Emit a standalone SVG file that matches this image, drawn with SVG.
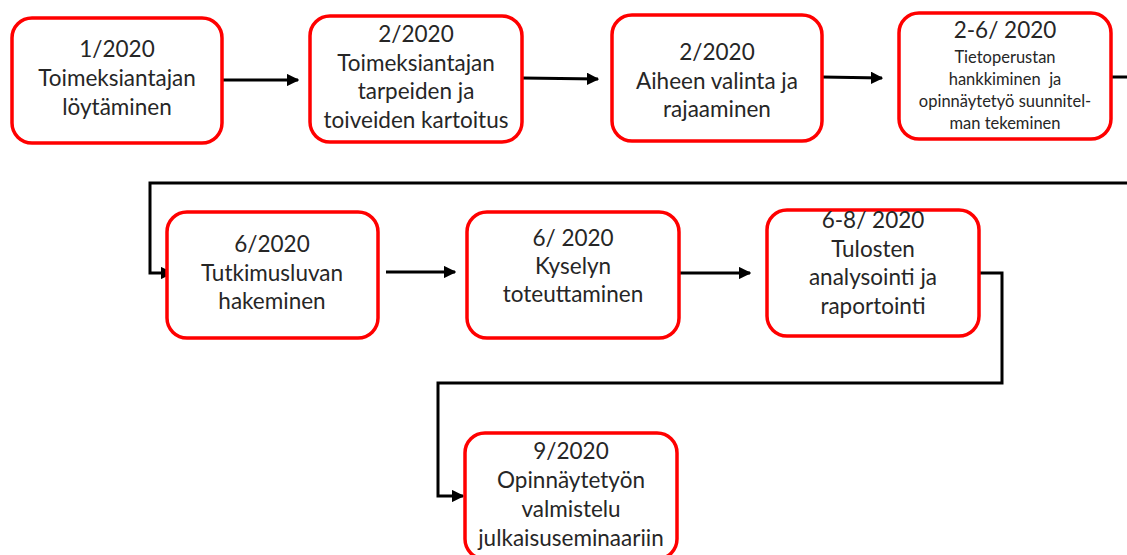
<svg xmlns="http://www.w3.org/2000/svg" width="1127" height="555" viewBox="0 0 1127 555">
<style>
.box{fill:#fff;stroke:#f00;stroke-width:3.5}
.t{font-family:Lato,"Liberation Sans",sans-serif;font-size:22.5px;fill:#262626;text-anchor:middle}
.s{font-size:16.5px}
.c{fill:none;stroke:#000;stroke-width:3}
</style>
<defs>
<marker id="ah" viewBox="0 0 10 10" refX="9" refY="5" markerWidth="4.2" markerHeight="4.2" orient="auto" markerUnits="strokeWidth">
<path d="M0,0 L10,5 L0,10 z" fill="#000"/>
</marker>
</defs>
<rect width="1127" height="555" fill="#fff"/>
<g id="connectors">
<path class="c" d="M222,80 L298,80" marker-end="url(#ah)"/>
<path class="c" d="M522,78 L598,79" marker-end="url(#ah)"/>
<path class="c" d="M822,77 L882,78" marker-end="url(#ah)"/>
<path class="c" d="M1112,77 L1127,77"/>
<path class="c" d="M1127,183 L150,183 L150,273 L172,273" marker-end="url(#ah)"/>
<path class="c" d="M386,272 L455,272" marker-end="url(#ah)"/>
<path class="c" d="M679,273 L750,273" marker-end="url(#ah)"/>
<path class="c" d="M979,273 L1002,273 L1002,383 L438,383 L438,496 L463,496" marker-end="url(#ah)"/>
</g>
<g id="n1">
<rect class="box" x="12" y="18" width="210" height="125" rx="20"/>
<text class="t" x="117" y="57">1/2020</text>
<text class="t" x="117" y="86">Toimeksiantajan</text>
<text class="t" x="117" y="115">löytäminen</text>
</g>
<g id="n2">
<rect class="box" x="310" y="16" width="212" height="126" rx="20"/>
<text class="t" x="416" y="42">2/2020</text>
<text class="t" x="416" y="71">Toimeksiantajan</text>
<text class="t" x="416" y="99">tarpeiden ja</text>
<text class="t" x="416" y="128">toiveiden kartoitus</text>
</g>
<g id="n3">
<rect class="box" x="612" y="15" width="210" height="126" rx="20"/>
<text class="t" x="717" y="60">2/2020</text>
<text class="t" x="717" y="89">Aiheen valinta ja</text>
<text class="t" x="717" y="117">rajaaminen</text>
</g>
<g id="n4">
<rect class="box" x="899" y="13" width="212" height="126" rx="20"/>
<text class="t" x="1005" y="38">2-6/ 2020</text>
<text class="t s" x="1005" y="63">Tietoperustan</text>
<text class="t s" x="1005" y="85" xml:space="preserve">hankkiminen  ja</text>
<text class="t s" x="1005" y="107">opinnäytetyö suunnitel-</text>
<text class="t s" x="1005" y="129">man tekeminen</text>
</g>
<g id="n5">
<rect class="box" x="167" y="212" width="211" height="126" rx="20"/>
<text class="t" x="272" y="252">6/2020</text>
<text class="t" x="272" y="281">Tutkimusluvan</text>
<text class="t" x="272" y="309">hakeminen</text>
</g>
<g id="n6">
<rect class="box" x="467" y="212" width="212" height="126" rx="20"/>
<text class="t" x="573" y="246">6/ 2020</text>
<text class="t" x="573" y="274">Kyselyn</text>
<text class="t" x="573" y="302">toteuttaminen</text>
</g>
<g id="n7">
<rect class="box" x="767" y="210" width="212" height="126" rx="20"/>
<text class="t" x="873" y="228">6-8/ 2020</text>
<text class="t" x="873" y="257">Tulosten</text>
<text class="t" x="873" y="285">analysointi ja</text>
<text class="t" x="873" y="314">raportointi</text>
</g>
<g id="n8">
<rect class="box" x="465" y="433" width="212" height="126" rx="20"/>
<text class="t" x="571" y="459">9/2020</text>
<text class="t" x="571" y="488">Opinnäytetyön</text>
<text class="t" x="571" y="517">valmistelu</text>
<text class="t" x="571" y="546">julkaisuseminaariin</text>
</g>
</svg>
